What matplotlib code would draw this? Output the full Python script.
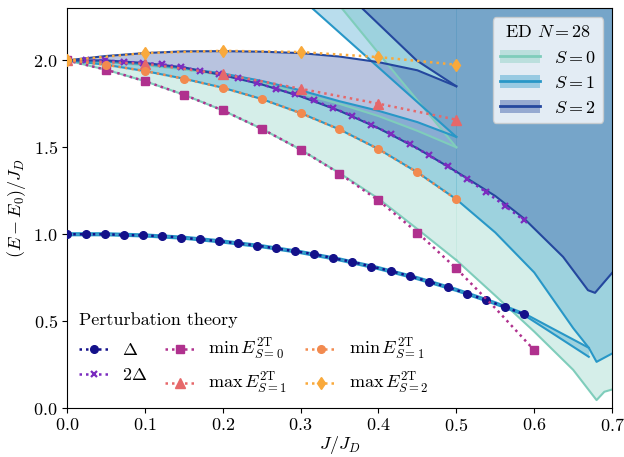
import numpy as np
import matplotlib
matplotlib.use('Agg')
import matplotlib.pyplot as plt
from matplotlib.patches import Patch
from matplotlib.lines import Line2D

plt.rcParams.update({
    'font.family': 'serif',
    'font.serif': ['cmr10'],
    'mathtext.fontset': 'cm',
    'axes.formatter.use_mathtext': True,
    'font.size': 13,
})

# ---- perturbation theory ----
J_pt = [0.0, 0.0244, 0.0489, 0.0733, 0.0978, 0.1222, 0.1467, 0.1711, 0.1956, 0.22,
        0.2444, 0.2689, 0.2933, 0.3178, 0.3422, 0.3667, 0.3911, 0.4156, 0.44, 0.4644,
        0.4889, 0.5133, 0.5378, 0.5622, 0.5867]
delta = [1.0, 1.0, 1.0, 0.996, 0.993, 0.989, 0.981, 0.970, 0.960, 0.948,
         0.935, 0.918, 0.902, 0.885, 0.862, 0.841, 0.814, 0.789, 0.759, 0.728,
         0.695, 0.659, 0.622, 0.582, 0.540]
two_delta = [2.0, 2.0, 2.0, 1.992, 1.986, 1.978, 1.962, 1.94, 1.92, 1.896,
             1.87, 1.836, 1.804, 1.77, 1.724, 1.682, 1.628, 1.578, 1.518, 1.456,
             1.39, 1.318, 1.244, 1.164, 1.08]

J_min0 = [0.0, 0.05, 0.1, 0.15, 0.2, 0.25, 0.3, 0.35, 0.4, 0.45, 0.5, 0.55, 0.6]
min_E0 = [2.0, 1.947, 1.881, 1.803, 1.713, 1.607, 1.487, 1.349, 1.195, 1.01, 0.803, 0.575, 0.333]
J_min1 = [0.0, 0.05, 0.1, 0.15, 0.2, 0.25, 0.3, 0.35, 0.4, 0.45, 0.5]
min_E1 = [2.0, 1.975, 1.939, 1.895, 1.843, 1.778, 1.697, 1.603, 1.49, 1.356, 1.201]
J_max = [0.0, 0.1, 0.2, 0.3, 0.4, 0.5]
max_E1 = [2.0, 1.98, 1.922, 1.837, 1.751, 1.659]
max_E2 = [2.0, 2.042, 2.055, 2.048, 2.019, 1.975]

# ---- ED N=28 ----
J_lo = [0.0, 0.05, 0.1, 0.15, 0.2, 0.25, 0.3, 0.35, 0.4, 0.45, 0.5]
# S=0
s0_lo_min = [2.0, 1.947, 1.881, 1.803, 1.713, 1.607, 1.487, 1.352, 1.205, 1.03, 0.851]
s0_lo_max = [2.0, 1.99, 1.972, 1.948, 1.915, 1.87, 1.81, 1.75, 1.68, 1.595, 1.50]
J0_up = [0.3, 0.353, 0.426, 0.5]
s0_up_min = [2.59, 2.3, 1.9, 1.5]
J0_hi = [0.5, 0.55, 0.6, 0.65, 0.68, 0.69, 0.7]
s0_hi_min = [0.851, 0.647, 0.44, 0.22, 0.046, 0.094, 0.107]
# S=1
J1_1t = [0.0, 0.05, 0.1, 0.15, 0.2, 0.25, 0.3, 0.35, 0.4, 0.45, 0.5, 0.55, 0.587, 0.62, 0.67]
s1_1t_min = [0.994, 0.994, 0.987, 0.974, 0.952, 0.925, 0.891, 0.849, 0.799, 0.741,
             0.674, 0.597, 0.535, 0.44, 0.295]
s1_1t_max = [1.006, 1.006, 0.999, 0.986, 0.964, 0.937, 0.903, 0.861, 0.811, 0.753,
             0.686, 0.609, 0.545, 0.466, 0.347]
s1_lo_min = [2.0, 1.975, 1.939, 1.895, 1.843, 1.778, 1.697, 1.603, 1.49, 1.356, 1.201]
s1_lo_max = [2.0, 1.993, 1.978, 1.955, 1.925, 1.882, 1.828, 1.765, 1.71, 1.645, 1.56]
J1_up = [0.28, 0.315, 0.407, 0.5]
s1_up_min = [2.44, 2.3, 1.932, 1.56]
J1_hi = [0.5, 0.55, 0.6, 0.65, 0.67, 0.68, 0.7]
s1_hi_min = [1.201, 1.01, 0.78, 0.46, 0.347, 0.266, 0.314]
# S=2
s2_lo_min = [2.0, 2.0, 1.985, 1.96, 1.915, 1.862, 1.793, 1.71, 1.61, 1.494, 1.36]
s2_lo_max = [2.0, 2.025, 2.042, 2.052, 2.053, 2.05, 2.042, 2.022, 1.99, 1.943, 1.851]
J2_up = [0.33, 0.379, 0.449, 0.5]
s2_up_min = [2.51, 2.3, 2.0, 1.851]
J2_hi = [0.5, 0.55, 0.587, 0.637, 0.669, 0.678, 0.7]
s2_hi_min = [1.36, 1.22, 1.09, 0.87, 0.678, 0.663, 0.778]

TOP = 3.0
ed_colors = ['#7fcdbb', '#2897c7', '#24479e']
pt_colors = ['#14118a', '#7b2cbf', '#b0318e', '#e6686a', '#f28a4f', '#f9a93b']

fig = plt.figure(figsize=(6.24, 4.57), dpi=100)
ax = fig.add_axes([0.107, 0.107, 0.874, 0.875])


def band(J, lo, hi, c, draw_hi=True):
    top = hi if hi is not None else [TOP] * len(J)
    ax.fill_between(J, lo, top, color=c, alpha=0.32, lw=0, zorder=1)
    ax.plot(J, lo, color=c, lw=1.5, zorder=2)
    if hi is not None and draw_hi:
        ax.plot(J, hi, color=c, lw=1.5, zorder=2)


# S=0
band(J_lo, s0_lo_min, s0_lo_max, ed_colors[0])
band(J0_up, s0_up_min, None, ed_colors[0])
band(J0_hi, s0_hi_min, None, ed_colors[0])
# S=1
band(J1_1t, s1_1t_min, s1_1t_max, ed_colors[1])
band(J_lo, s1_lo_min, s1_lo_max, ed_colors[1])
band(J1_up, s1_up_min, None, ed_colors[1])
band(J1_hi, s1_hi_min, None, ed_colors[1])
# S=2
band(J_lo, s2_lo_min, s2_lo_max, ed_colors[2])
band(J2_up, s2_up_min, None, ed_colors[2])
band(J2_hi, s2_hi_min, None, ed_colors[2])

# perturbation theory curves
kw = dict(ls=(0, (1, 1.6)), lw=1.8, zorder=4)
l_d, = ax.plot(J_pt, delta, color=pt_colors[0], marker='o', ms=5.5, **kw)
l_2d, = ax.plot(J_pt, two_delta, color=pt_colors[1], marker='x', ms=5, mew=1.6, **kw)
l_m0, = ax.plot(J_min0, min_E0, color=pt_colors[2], marker='s', ms=5.5,
                markevery=[0, 1, 2, 3, 4, 5, 6, 7, 8, 9, 10, 12], **kw)
l_M1, = ax.plot(J_max, max_E1, color=pt_colors[3], marker='^', ms=6.5, **kw)
l_m1, = ax.plot(J_min1, min_E1, color=pt_colors[4], marker='o', ms=5.5, **kw)
l_M2, = ax.plot(J_max, max_E2, color=pt_colors[5], marker='d', ms=6.5, **kw)

ax.set_xlim(0, 0.7)
ax.set_ylim(0, 2.3)
ax.set_xticks(np.arange(0, 0.71, 0.1))
ax.set_yticks(np.arange(0, 2.01, 0.5))
ax.tick_params(pad=3)
ax.set_xlabel('$J/J_D$', labelpad=0)
ax.set_ylabel('$(E-E_0)/J_D$', labelpad=4)

ed_handles = [(Patch(facecolor=c, alpha=0.4, edgecolor='none'), Line2D([], [], color=c, lw=2))
              for c in ed_colors]
leg1 = ax.legend(ed_handles, ['$S=0$', '$S=1$', '$S=2$'], title='ED $N=28$',
                 loc='upper right', title_fontsize=13, framealpha=0.8, handlelength=2.2)
ax.add_artist(leg1)

pt_handles = [l_d, l_2d, l_m0, l_M1, l_m1, l_M2]
pt_labels = [r'$\Delta$', r'$2\Delta$',
             r'$\min\,E^{2\mathrm{T}}_{S=0}$', r'$\max\,E^{2\mathrm{T}}_{S=1}$',
             r'$\min\,E^{2\mathrm{T}}_{S=1}$', r'$\max\,E^{2\mathrm{T}}_{S=2}$']
ax.legend(pt_handles, pt_labels, title='Perturbation theory', loc='lower left',
          ncol=3, frameon=False, alignment='left', handlelength=1.7,
          columnspacing=1.0, handletextpad=0.7, title_fontsize=13,
          borderaxespad=0.25)

fig.savefig('out.png', dpi=100)
